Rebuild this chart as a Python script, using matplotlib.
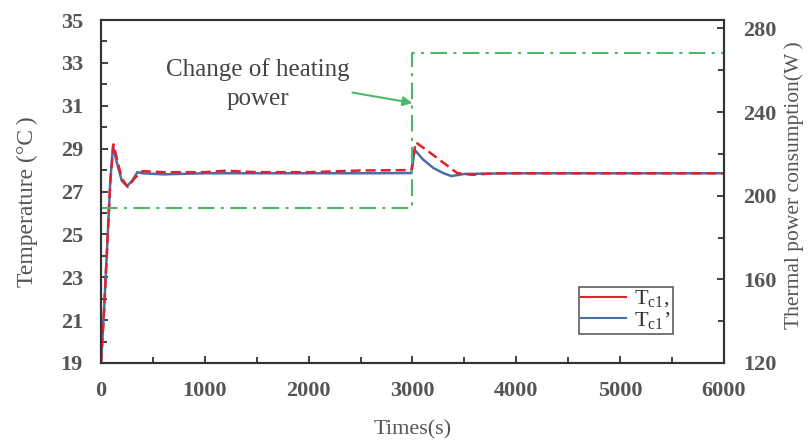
import matplotlib
matplotlib.use("Agg")
import matplotlib.pyplot as plt
from matplotlib.ticker import MultipleLocator
from matplotlib.lines import Line2D

# ---- data ----
t_blue = [0, 30, 60, 90, 115, 150, 200, 250, 300, 350, 400, 600, 1000, 1500, 2000, 2500, 2990,
          3020, 3100, 3200, 3300, 3375, 3500, 4000, 5000, 6000]
T_blue = [19, 21.5, 24.5, 27.5, 29.1, 28.4, 27.5, 27.25, 27.5, 27.9, 27.85, 27.8, 27.85, 27.85, 27.85, 27.85, 27.86,
          28.95, 28.5, 28.1, 27.85, 27.72, 27.82, 27.85, 27.85, 27.85]
t_red = [0, 30, 60, 90, 120, 160, 200, 260, 320, 400, 600, 1000, 1200, 1500, 2000, 2500, 2990,
         3030, 3200, 3430, 3577, 3800, 4500, 6000]
T_red = [19, 21.5, 24.5, 27.5, 29.2, 28.4, 27.6, 27.2, 27.6, 27.95, 27.9, 27.9, 27.97, 27.9, 27.9, 27.98, 28.0,
         29.3, 28.7, 27.86, 27.78, 27.85, 27.85, 27.85]
t_power = [0, 3000, 3000, 6000]
P_power = [194, 194, 268, 268]

labels = ["T$_{\\mathregular{c1}}$,", "T$_{\\mathregular{c1}}$\u2019"]
xticks = [0, 1000, 2000, 3000, 4000, 5000, 6000]
yticks_left = [19, 21, 23, 25, 27, 29, 31, 33, 35]
yticks_right = [120, 160, 200, 240, 280]

plt.rcParams['font.family'] = ['Liberation Serif', 'DejaVu Serif']
plt.rcParams['mathtext.fontset'] = 'custom'
plt.rcParams['mathtext.rm'] = 'Liberation Serif'

red = '#e5202e'
blue = '#4a6ea8'
green = '#4cb86a'
gray = '#555555'

fig = plt.figure(figsize=(8.09, 4.43), dpi=100)
ax = fig.add_axes([101/809, 1-363/443, (724-101)/809, (363-20)/443])
ax2 = ax.twinx()

ax.plot(t_red, T_red, color=red, lw=1.8, ls=(0, (4, 2)), zorder=3)
ax.plot(t_blue, T_blue, color=blue, lw=1.8, zorder=2)
ax2.plot(t_power, P_power, color=green, lw=1.5, ls=(0, (8, 3, 1.5, 3)))

ax.set_xlim(0, 6000)
ax.set_ylim(19, 35)
ax2.set_ylim(120, 284)
ax.set_xticks(xticks)
ax.set_yticks(yticks_left)
ax2.set_yticks(yticks_right)
ax.xaxis.set_minor_locator(MultipleLocator(500))
ax.yaxis.set_minor_locator(MultipleLocator(1))
ax2.yaxis.set_minor_locator(MultipleLocator(20))

for a in (ax, ax2):
    a.tick_params(which='both', direction='in', width=1.3, color='#333333')
    a.tick_params(which='major', length=5, labelsize=16, labelcolor=gray)
    a.tick_params(which='minor', length=4)
    for s in a.spines.values():
        s.set_linewidth(1.5)
        s.set_color('#333333')
ax.tick_params(axis='x', which='major', pad=13)
ax.tick_params(axis='y', which='major', pad=13)
ax2.tick_params(axis='y', which='major', pad=14)
for lbl in ax.get_xticklabels() + ax.get_yticklabels() + ax2.get_yticklabels():
    lbl.set_fontweight('bold')

ax.set_xlabel('Times(s)', fontsize=16, color=gray, labelpad=14)
ax.set_ylabel('Temperature (\u00b0C\u2009)', fontsize=17, color=gray)
ax.yaxis.set_label_coords(-0.101, 0.47)
ax2.set_ylabel('Thermal power consumption(W\u2009)', fontsize=15.5, color=gray)
ax2.yaxis.set_label_coords(1.097, 0.52)

ax.annotate('Change of heating\npower', xy=(3000, 31.13), xytext=(1510, 32.0),
            ha='center', va='center', fontsize=18, color='#444444', linespacing=1.4,
            arrowprops=dict(arrowstyle='-|>', color=green, lw=1.5, mutation_scale=14,
                            shrinkA=0, shrinkB=0, relpos=(1.0, 0.35)))

handles = [Line2D([], [], color=red, lw=1.5), Line2D([], [], color=blue, lw=1.5)]
leg = ax.legend(handles, labels, loc='lower right', bbox_to_anchor=(572/623, 29/343),
                fontsize=16, frameon=True, fancybox=False, edgecolor='#333333',
                handlelength=2.0, borderpad=0.1, labelspacing=0.0, handletextpad=0.4,
                borderaxespad=0)
leg.get_frame().set_linewidth(1.2)
for txt in leg.get_texts():
    txt.set_color('#333333')

fig.savefig('out.png', dpi=100)
